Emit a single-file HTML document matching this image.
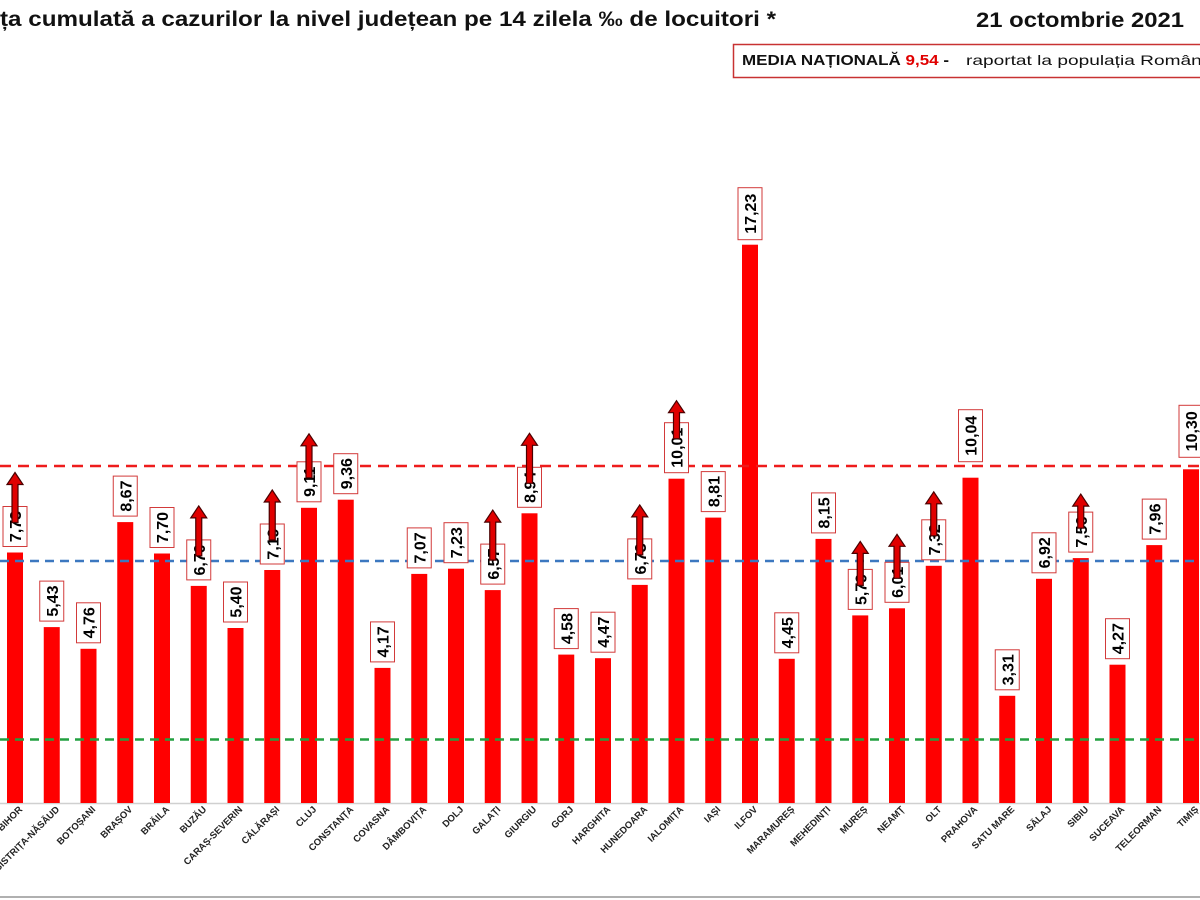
<!DOCTYPE html>
<html><head><meta charset="utf-8"><style>
html,body{margin:0;padding:0;background:#fff;}
svg{display:block;font-family:"Liberation Sans",sans-serif;}
.b{fill:#ff0000}
.bx{fill:#fff;stroke:#d23a3a;stroke-width:1}
.v{font-size:16px;font-weight:bold;fill:#000;text-anchor:middle}
.l{font-size:9.5px;font-weight:bold;fill:#222;text-anchor:end}
.ar{fill:#e00000;stroke:#4a0000;stroke-width:1.2}
</style></head><body>
<svg width="1200" height="900" viewBox="0 0 1200 900">
<rect width="1200" height="900" fill="#fff"/>
<text x="0" y="26" font-size="21" font-weight="bold" fill="#111" textLength="776" lengthAdjust="spacingAndGlyphs">ța cumulată a cazurilor la nivel județean pe 14 zilela ‰ de locuitori *</text>
<text x="976" y="27" font-size="21" font-weight="bold" fill="#111" textLength="208" lengthAdjust="spacingAndGlyphs">21 octombrie 2021</text>
<rect x="733.5" y="44.5" width="470" height="33" fill="#fff" stroke="#c83232" stroke-width="1.5"/>
<text x="742" y="65" font-size="15" font-weight="bold" fill="#111" textLength="207" lengthAdjust="spacingAndGlyphs">MEDIA NAȚIONALĂ <tspan fill="#e00000">9,54</tspan> -</text>
<text x="966" y="65" font-size="14" fill="#111" textLength="240" lengthAdjust="spacingAndGlyphs">raportat la populația Români</text>
<line x1="0" y1="803.5" x2="1200" y2="803.5" stroke="#d0d0d0" stroke-width="1.5"/>
<line x1="0" y1="897" x2="1200" y2="897" stroke="#b0b0b0" stroke-width="2"/>
<g>
<g transform="translate(15,552.5)"><rect class="b" x="-8" y="0" width="16" height="250.5"/></g>
<g transform="translate(51.75,627.1)"><rect class="b" x="-8" y="0" width="16" height="175.9"/></g>
<g transform="translate(88.5,648.8)"><rect class="b" x="-8" y="0" width="16" height="154.2"/></g>
<g transform="translate(125.25,522.1)"><rect class="b" x="-8" y="0" width="16" height="280.9"/></g>
<g transform="translate(162,553.5)"><rect class="b" x="-8" y="0" width="16" height="249.5"/></g>
<g transform="translate(198.75,585.9)"><rect class="b" x="-8" y="0" width="16" height="217.1"/></g>
<g transform="translate(235.5,628)"><rect class="b" x="-8" y="0" width="16" height="175"/></g>
<g transform="translate(272.25,570)"><rect class="b" x="-8" y="0" width="16" height="233"/></g>
<g transform="translate(309,507.8)"><rect class="b" x="-8" y="0" width="16" height="295.2"/></g>
<g transform="translate(345.75,499.7)"><rect class="b" x="-8" y="0" width="16" height="303.3"/></g>
<g transform="translate(382.5,667.9)"><rect class="b" x="-8" y="0" width="16" height="135.1"/></g>
<g transform="translate(419.25,573.9)"><rect class="b" x="-8" y="0" width="16" height="229.1"/></g>
<g transform="translate(456,568.7)"><rect class="b" x="-8" y="0" width="16" height="234.3"/></g>
<g transform="translate(492.75,590.1)"><rect class="b" x="-8" y="0" width="16" height="212.9"/></g>
<g transform="translate(529.5,513.3)"><rect class="b" x="-8" y="0" width="16" height="289.7"/></g>
<g transform="translate(566.25,654.6)"><rect class="b" x="-8" y="0" width="16" height="148.4"/></g>
<g transform="translate(603,658.2)"><rect class="b" x="-8" y="0" width="16" height="144.8"/></g>
<g transform="translate(639.75,584.9)"><rect class="b" x="-8" y="0" width="16" height="218.1"/></g>
<g transform="translate(676.5,478.7)"><rect class="b" x="-8" y="0" width="16" height="324.3"/></g>
<g transform="translate(713.25,517.6)"><rect class="b" x="-8" y="0" width="16" height="285.4"/></g>
<g transform="translate(750,244.7)"><rect class="b" x="-8" y="0" width="16" height="558.3"/></g>
<g transform="translate(786.75,658.8)"><rect class="b" x="-8" y="0" width="16" height="144.2"/></g>
<g transform="translate(823.5,538.9)"><rect class="b" x="-8" y="0" width="16" height="264.1"/></g>
<g transform="translate(860.25,615.4)"><rect class="b" x="-8" y="0" width="16" height="187.6"/></g>
<g transform="translate(897,608.3)"><rect class="b" x="-8" y="0" width="16" height="194.7"/></g>
<g transform="translate(933.75,565.8)"><rect class="b" x="-8" y="0" width="16" height="237.2"/></g>
<g transform="translate(970.5,477.7)"><rect class="b" x="-8" y="0" width="16" height="325.3"/></g>
<g transform="translate(1007.25,695.8)"><rect class="b" x="-8" y="0" width="16" height="107.2"/></g>
<g transform="translate(1044,578.8)"><rect class="b" x="-8" y="0" width="16" height="224.2"/></g>
<g transform="translate(1080.75,558.1)"><rect class="b" x="-8" y="0" width="16" height="244.9"/></g>
<g transform="translate(1117.5,664.7)"><rect class="b" x="-8" y="0" width="16" height="138.3"/></g>
<g transform="translate(1154.25,545.1)"><rect class="b" x="-8" y="0" width="16" height="257.9"/></g>
<g transform="translate(1191,469.3)"><rect class="b" x="-8" y="0" width="16" height="333.7"/></g>
</g>
<line x1="0" y1="466" x2="1200" y2="466" stroke="#ee1c1c" stroke-width="2.5" stroke-dasharray="11,7"/>
<line x1="0" y1="561" x2="1200" y2="561" stroke="#3c78c0" stroke-width="2.5" stroke-dasharray="9,6"/>
<line x1="0" y1="739.5" x2="1200" y2="739.5" stroke="#22a040" stroke-width="2.5" stroke-dasharray="9,6"/>
<g>
<g transform="translate(15,552.5)"><rect class="bx" x="-12" y="-46" width="24" height="40"/><text class="v" transform="translate(6,-26) rotate(-90)">7,73</text><path class="ar" d="M-3,-30 V-68 H-8 L0,-80 L8,-68 H3 V-30 Z"/></g>
<g transform="translate(51.75,627.1)"><rect class="bx" x="-12" y="-46" width="24" height="40"/><text class="v" transform="translate(6,-26) rotate(-90)">5,43</text></g>
<g transform="translate(88.5,648.8)"><rect class="bx" x="-12" y="-46" width="24" height="40"/><text class="v" transform="translate(6,-26) rotate(-90)">4,76</text></g>
<g transform="translate(125.25,522.1)"><rect class="bx" x="-12" y="-46" width="24" height="40"/><text class="v" transform="translate(6,-26) rotate(-90)">8,67</text></g>
<g transform="translate(162,553.5)"><rect class="bx" x="-12" y="-46" width="24" height="40"/><text class="v" transform="translate(6,-26) rotate(-90)">7,70</text></g>
<g transform="translate(198.75,585.9)"><rect class="bx" x="-12" y="-46" width="24" height="40"/><text class="v" transform="translate(6,-26) rotate(-90)">6,70</text><path class="ar" d="M-3,-30 V-68 H-8 L0,-80 L8,-68 H3 V-30 Z"/></g>
<g transform="translate(235.5,628)"><rect class="bx" x="-12" y="-46" width="24" height="40"/><text class="v" transform="translate(6,-26) rotate(-90)">5,40</text></g>
<g transform="translate(272.25,570)"><rect class="bx" x="-12" y="-46" width="24" height="40"/><text class="v" transform="translate(6,-26) rotate(-90)">7,19</text><path class="ar" d="M-3,-30 V-68 H-8 L0,-80 L8,-68 H3 V-30 Z"/></g>
<g transform="translate(309,507.8)"><rect class="bx" x="-12" y="-46" width="24" height="40"/><text class="v" transform="translate(6,-26) rotate(-90)">9,11</text><path class="ar" d="M-3,-30 V-62 H-8 L0,-74 L8,-62 H3 V-30 Z"/></g>
<g transform="translate(345.75,499.7)"><rect class="bx" x="-12" y="-46" width="24" height="40"/><text class="v" transform="translate(6,-26) rotate(-90)">9,36</text></g>
<g transform="translate(382.5,667.9)"><rect class="bx" x="-12" y="-46" width="24" height="40"/><text class="v" transform="translate(6,-26) rotate(-90)">4,17</text></g>
<g transform="translate(419.25,573.9)"><rect class="bx" x="-12" y="-46" width="24" height="40"/><text class="v" transform="translate(6,-26) rotate(-90)">7,07</text></g>
<g transform="translate(456,568.7)"><rect class="bx" x="-12" y="-46" width="24" height="40"/><text class="v" transform="translate(6,-26) rotate(-90)">7,23</text></g>
<g transform="translate(492.75,590.1)"><rect class="bx" x="-12" y="-46" width="24" height="40"/><text class="v" transform="translate(6,-26) rotate(-90)">6,57</text><path class="ar" d="M-3,-30 V-68 H-8 L0,-80 L8,-68 H3 V-30 Z"/></g>
<g transform="translate(529.5,513.3)"><rect class="bx" x="-12" y="-46" width="24" height="40"/><text class="v" transform="translate(6,-26) rotate(-90)">8,94</text><path class="ar" d="M-3,-30 V-68 H-8 L0,-80 L8,-68 H3 V-30 Z"/></g>
<g transform="translate(566.25,654.6)"><rect class="bx" x="-12" y="-46" width="24" height="40"/><text class="v" transform="translate(6,-26) rotate(-90)">4,58</text></g>
<g transform="translate(603,658.2)"><rect class="bx" x="-12" y="-46" width="24" height="40"/><text class="v" transform="translate(6,-26) rotate(-90)">4,47</text></g>
<g transform="translate(639.75,584.9)"><rect class="bx" x="-12" y="-46" width="24" height="40"/><text class="v" transform="translate(6,-26) rotate(-90)">6,73</text><path class="ar" d="M-3,-30 V-68 H-8 L0,-80 L8,-68 H3 V-30 Z"/></g>
<g transform="translate(676.5,478.7)"><rect class="bx" x="-12" y="-56" width="24" height="50"/><text class="v" transform="translate(6,-31) rotate(-90)">10,01</text><path class="ar" d="M-3,-40 V-66 H-8 L0,-78 L8,-66 H3 V-40 Z"/></g>
<g transform="translate(713.25,517.6)"><rect class="bx" x="-12" y="-46" width="24" height="40"/><text class="v" transform="translate(6,-26) rotate(-90)">8,81</text></g>
<g transform="translate(750,244.7)"><rect class="bx" x="-12" y="-57" width="24" height="52"/><text class="v" transform="translate(6,-31) rotate(-90)">17,23</text></g>
<g transform="translate(786.75,658.8)"><rect class="bx" x="-12" y="-46" width="24" height="40"/><text class="v" transform="translate(6,-26) rotate(-90)">4,45</text></g>
<g transform="translate(823.5,538.9)"><rect class="bx" x="-12" y="-46" width="24" height="40"/><text class="v" transform="translate(6,-26) rotate(-90)">8,15</text></g>
<g transform="translate(860.25,615.4)"><rect class="bx" x="-12" y="-46" width="24" height="40"/><text class="v" transform="translate(6,-26) rotate(-90)">5,79</text><path class="ar" d="M-3,-30 V-62 H-8 L0,-74 L8,-62 H3 V-30 Z"/></g>
<g transform="translate(897,608.3)"><rect class="bx" x="-12" y="-46" width="24" height="40"/><text class="v" transform="translate(6,-26) rotate(-90)">6,01</text><path class="ar" d="M-3,-30 V-62 H-8 L0,-74 L8,-62 H3 V-30 Z"/></g>
<g transform="translate(933.75,565.8)"><rect class="bx" x="-12" y="-46" width="24" height="40"/><text class="v" transform="translate(6,-26) rotate(-90)">7,32</text><path class="ar" d="M-3,-30 V-62 H-8 L0,-74 L8,-62 H3 V-30 Z"/></g>
<g transform="translate(970.5,477.7)"><rect class="bx" x="-12" y="-68" width="24" height="52"/><text class="v" transform="translate(6,-42) rotate(-90)">10,04</text></g>
<g transform="translate(1007.25,695.8)"><rect class="bx" x="-12" y="-46" width="24" height="40"/><text class="v" transform="translate(6,-26) rotate(-90)">3,31</text></g>
<g transform="translate(1044,578.8)"><rect class="bx" x="-12" y="-46" width="24" height="40"/><text class="v" transform="translate(6,-26) rotate(-90)">6,92</text></g>
<g transform="translate(1080.75,558.1)"><rect class="bx" x="-12" y="-46" width="24" height="40"/><text class="v" transform="translate(6,-26) rotate(-90)">7,56</text><path class="ar" d="M-3,-30 V-52 H-8 L0,-64 L8,-52 H3 V-30 Z"/></g>
<g transform="translate(1117.5,664.7)"><rect class="bx" x="-12" y="-46" width="24" height="40"/><text class="v" transform="translate(6,-26) rotate(-90)">4,27</text></g>
<g transform="translate(1154.25,545.1)"><rect class="bx" x="-12" y="-46" width="24" height="40"/><text class="v" transform="translate(6,-26) rotate(-90)">7,96</text></g>
<g transform="translate(1191,469.3)"><rect class="bx" x="-12" y="-64" width="24" height="52"/><text class="v" transform="translate(6,-38) rotate(-90)">10,30</text></g>
</g>
<g>
<text class="l" transform="translate(23,810) rotate(-45)">BIHOR</text>
<text class="l" transform="translate(60,810) rotate(-45)">BISTRIȚA-NĂSĂUD</text>
<text class="l" transform="translate(96,810) rotate(-45)">BOTOȘANI</text>
<text class="l" transform="translate(133,810) rotate(-45)">BRAȘOV</text>
<text class="l" transform="translate(170,810) rotate(-45)">BRĂILA</text>
<text class="l" transform="translate(207,810) rotate(-45)">BUZĂU</text>
<text class="l" transform="translate(243,810) rotate(-45)">CARAȘ-SEVERIN</text>
<text class="l" transform="translate(280,810) rotate(-45)">CĂLĂRAȘI</text>
<text class="l" transform="translate(317,810) rotate(-45)">CLUJ</text>
<text class="l" transform="translate(354,810) rotate(-45)">CONSTANȚA</text>
<text class="l" transform="translate(390,810) rotate(-45)">COVASNA</text>
<text class="l" transform="translate(427,810) rotate(-45)">DÂMBOVIȚA</text>
<text class="l" transform="translate(464,810) rotate(-45)">DOLJ</text>
<text class="l" transform="translate(501,810) rotate(-45)">GALAȚI</text>
<text class="l" transform="translate(537,810) rotate(-45)">GIURGIU</text>
<text class="l" transform="translate(574,810) rotate(-45)">GORJ</text>
<text class="l" transform="translate(611,810) rotate(-45)">HARGHITA</text>
<text class="l" transform="translate(648,810) rotate(-45)">HUNEDOARA</text>
<text class="l" transform="translate(684,810) rotate(-45)">IALOMIȚA</text>
<text class="l" transform="translate(721,810) rotate(-45)">IAȘI</text>
<text class="l" transform="translate(758,810) rotate(-45)">ILFOV</text>
<text class="l" transform="translate(795,810) rotate(-45)">MARAMUREȘ</text>
<text class="l" transform="translate(831,810) rotate(-45)">MEHEDINȚI</text>
<text class="l" transform="translate(868,810) rotate(-45)">MUREȘ</text>
<text class="l" transform="translate(905,810) rotate(-45)">NEAMȚ</text>
<text class="l" transform="translate(942,810) rotate(-45)">OLT</text>
<text class="l" transform="translate(978,810) rotate(-45)">PRAHOVA</text>
<text class="l" transform="translate(1015,810) rotate(-45)">SATU MARE</text>
<text class="l" transform="translate(1052,810) rotate(-45)">SĂLAJ</text>
<text class="l" transform="translate(1089,810) rotate(-45)">SIBIU</text>
<text class="l" transform="translate(1125,810) rotate(-45)">SUCEAVA</text>
<text class="l" transform="translate(1162,810) rotate(-45)">TELEORMAN</text>
<text class="l" transform="translate(1199,810) rotate(-45)">TIMIȘ</text>
</g>
</svg>
</body></html>
